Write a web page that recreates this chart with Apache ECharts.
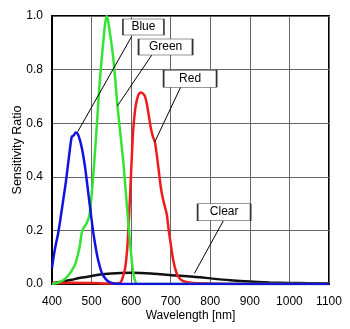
<!DOCTYPE html>
<html>
<head>
<meta charset="utf-8">
<script src="https://cdn.jsdelivr.net/npm/echarts@6/dist/echarts.min.js"></script>
<style>
  html, body { margin: 0; padding: 0; background: #fff; }
  #chart { width: 350px; height: 329px; }
</style>
</head>
<body>
<div id="chart"></div>
<script>
// Spectral sensitivity of the four channels (relative ratio vs wavelength)
const xTicks = [400, 500, 600, 700, 800, 900, 1000, 1100];
const yTicks = [0.0, 0.2, 0.4, 0.6, 0.8, 1.0];

const blueNm  = [400, 405, 410, 415, 420, 425, 430, 435, 440, 445, 450, 455, 460, 465, 470, 475, 480, 485, 490, 495, 500, 505, 510, 515, 520, 525, 530, 540, 550, 560, 570, 600, 700, 800, 900, 1000, 1100];
const blueVal = [0.06, 0.11, 0.15, 0.185, 0.23, 0.28, 0.33, 0.38, 0.44, 0.50, 0.55, 0.555, 0.565, 0.56, 0.54, 0.51, 0.47, 0.42, 0.36, 0.30, 0.24, 0.185, 0.14, 0.10, 0.07, 0.045, 0.03, 0.012, 0.004, 0.001, 0, 0, 0, 0, 0, 0, 0];

const greenNm  = [400, 410, 420, 430, 440, 450, 460, 470, 475, 480, 485, 490, 495, 500, 505, 510, 515, 520, 525, 530, 534, 538, 542, 546, 550, 555, 560, 565, 570, 575, 580, 585, 590, 595, 600, 605, 610, 615, 700, 1100];
const greenVal = [0, 0.003, 0.008, 0.016, 0.03, 0.05, 0.08, 0.14, 0.19, 0.21, 0.22, 0.235, 0.26, 0.33, 0.42, 0.52, 0.63, 0.74, 0.83, 0.91, 0.97, 1.0, 0.98, 0.94, 0.90, 0.84, 0.76, 0.67, 0.60, 0.53, 0.46, 0.37, 0.28, 0.19, 0.11, 0.045, 0.012, 0, 0, 0];

const redNm  = [400, 450, 500, 550, 570, 575, 580, 585, 590, 595, 600, 605, 610, 615, 620, 625, 630, 635, 640, 645, 650, 655, 660, 665, 670, 675, 680, 685, 690, 695, 700, 705, 710, 715, 720, 730, 750, 800, 900, 1100];
const redVal = [0.003, 0.005, 0.004, 0.002, 0.003, 0.01, 0.03, 0.06, 0.13, 0.26, 0.42, 0.57, 0.65, 0.69, 0.71, 0.715, 0.71, 0.70, 0.67, 0.625, 0.58, 0.55, 0.53, 0.48, 0.42, 0.36, 0.32, 0.29, 0.26, 0.20, 0.15, 0.10, 0.065, 0.04, 0.025, 0.012, 0.005, 0.002, 0, 0];

const clearNm  = [400, 425, 450, 475, 500, 525, 550, 575, 600, 625, 650, 675, 700, 725, 750, 775, 800, 850, 900, 950, 1000, 1050, 1100];
const clearVal = [0.003, 0.008, 0.016, 0.024, 0.03, 0.036, 0.039, 0.041, 0.042, 0.041, 0.039, 0.036, 0.033, 0.031, 0.028, 0.025, 0.021, 0.014, 0.009, 0.006, 0.004, 0.003, 0.002];

const channelNames = ['Clear', 'Red', 'Green', 'Blue'];

// Callout boxes: box centre and leader line (start at box, end on curve), in data units
const callouts = {
  Blue:  { box: [631, 0.959], size: [41, 16], from: [601, 0.923], to: [465, 0.568] },
  Green: { box: [687, 0.884], size: [54, 16], from: [652, 0.854], to: [565, 0.664] },
  Red:   { box: [749, 0.766], size: [53, 17], from: [725, 0.734], to: [660, 0.531] },
  Clear: { box: [835, 0.268], size: [53, 17], from: [833, 0.236], to: [760, 0.040] }
};

const FONT = 'Liberation Sans, Arial, Helvetica, sans-serif';
const zip = (xs, ys) => xs.map((x, i) => [x, ys[i]]);

function channel(name, xs, ys, color, width) {
  const c = callouts[name];
  return {
    name: name,
    type: 'line',
    data: zip(xs, ys),
    showSymbol: false,
    smooth: 0.25,
    lineStyle: { color: color, width: width },
    itemStyle: { color: color },
    z: 3,
    markLine: {
      silent: true,
      symbol: 'none',
      animation: false,
      label: { show: false },
      lineStyle: { color: '#000', width: 1, type: 'solid' },
      data: [[{ coord: c.from }, { coord: c.to }]],
      z: 5
    },
    markPoint: {
      silent: true,
      animation: false,
      symbol: 'rect',
      symbolSize: c.size,
      itemStyle: { color: '#fff', borderColor: '#333', borderWidth: 1 },
      label: {
        show: true, position: 'inside', formatter: name,
        color: '#000', fontSize: 12, fontFamily: FONT
      },
      data: [{ coord: c.box }],
      z: 6
    }
  };
}

const chart = echarts.init(document.getElementById('chart'), null, { renderer: 'canvas' });
chart.setOption({
  animation: false,
  backgroundColor: '#fff',
  grid: {
    left: 52, right: 21, top: 16, bottom: 45,
    containLabel: false, outerBoundsMode: 'none',
    show: true, borderColor: '#000', borderWidth: 2, backgroundColor: 'transparent'
  },
  xAxis: {
    type: 'value',
    min: xTicks[0], max: xTicks[xTicks.length - 1], interval: 100,
    name: 'Wavelength [nm]',
    nameLocation: 'middle', nameGap: 26, nameMoveOverlap: false,
    nameTextStyle: { color: '#000', fontSize: 12, fontFamily: FONT },
    axisLine: { show: true, lineStyle: { color: '#000', width: 2 } },
    axisTick: { show: false },
    axisLabel: {
      color: '#000', fontSize: 12, fontFamily: FONT, margin: 12,
      formatter: v => String(v)
    },
    splitLine: { show: true, lineStyle: { color: '#666', width: 1 } }
  },
  yAxis: {
    type: 'value',
    min: yTicks[0], max: yTicks[yTicks.length - 1], interval: 0.2,
    name: 'Sensitivity Ratio',
    nameLocation: 'middle', nameGap: 28, nameRotate: 90, nameMoveOverlap: false,
    nameTextStyle: { color: '#000', fontSize: 12.5, fontFamily: FONT },
    axisLine: { show: true, lineStyle: { color: '#000', width: 2 } },
    axisTick: { show: false },
    axisLabel: {
      color: '#000', fontSize: 12, fontFamily: FONT, margin: 9,
      formatter: v => v.toFixed(1)
    },
    splitLine: { show: true, lineStyle: { color: '#666', width: 1 } }
  },
  series: [
    channel(channelNames[0], clearNm, clearVal, '#111111', 2.5),
    channel(channelNames[1], redNm, redVal, '#ee1c1c', 2.5),
    channel(channelNames[2], greenNm, greenVal, '#33e433', 2.5),
    channel(channelNames[3], blueNm, blueVal, '#1212e0', 2.5)
  ]
});
</script>
</body>
</html>
